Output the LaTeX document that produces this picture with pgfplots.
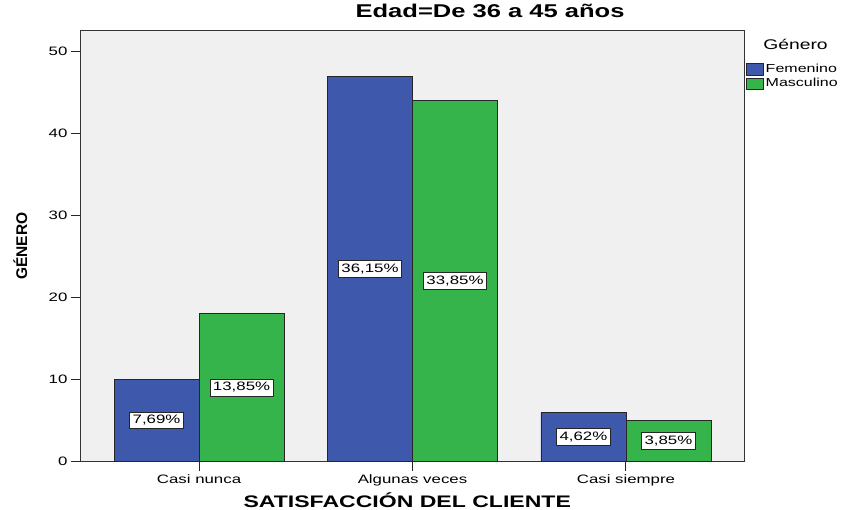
\documentclass[border=0pt]{standalone}
\usepackage{fontspec}
\setmainfont{Liberation Sans}[FakeStretch=1.38]
\newfontfamily\ylabfont{Liberation Sans}
\usepackage{pgfplots}
\pgfplotsset{compat=1.18}
\definecolor{fem}{HTML}{3E58AC}
\definecolor{masc}{HTML}{34B44A}
\definecolor{bg}{HTML}{F0F0F0}
\begin{document}
\begin{tikzpicture}
\useasboundingbox (-81pt,-48.5pt) rectangle (765pt,461.5pt);
\begin{axis}[
  at={(0,0)}, anchor=south west,
  scale only axis, width=663pt, height=430.5pt,
  xmin=-0.553, xmax=2.553, ymin=0, ymax=52.5,
  ybar=0pt, bar width=85pt,
  axis background/.style={fill=bg},
  axis line style={draw=black!80, line width=1pt},
  xtick={0,1,2}, xticklabels={Casi nunca,Algunas veces,Casi siempre},
  ytick={0,10,20,30,40,50},
  tick align=outside, xtick pos=bottom, ytick pos=left,
  major tick length=10pt,
  tick style={draw=black!85, line width=1pt},
  /pgf/number format/assume math mode=true,
  ticklabel style={font=\fontsize{12.2}{14}\selectfont},
  title={Edad=De 36 a 45 años},
  title style={at={(rel axis cs:0.617,1)}, anchor=base, yshift=7pt, font=\fontsize{18.5}{20}\selectfont\bfseries},
  xlabel={SATISFACCIÓN DEL CLIENTE},
  xlabel style={at={(rel axis cs:0.492,0)}, anchor=base, yshift=-46.5pt, font=\fontsize{16.7}{18}\selectfont\bfseries},
  ylabel={GÉNERO},
  ylabel style={at={(rel axis cs:-0.0814,0.5)}, anchor=base, font=\ylabfont\fontsize{15.5}{17}\selectfont\bfseries},
  legend style={at={(rel axis cs:1.003,0.9257)}, anchor=north west, draw=none, fill=none, inner sep=0pt,
    font=\fontsize{11.6}{13}\selectfont, row sep=2.5pt,
    nodes={text height=9pt, text depth=2.5pt, inner sep=0pt}},
  legend cell align=left,
  nodes near coords style={anchor=center, fill=white, draw=black!85, line width=0.8pt,
    inner xsep=3pt, inner ysep=2.5pt, text height=9pt, text depth=2.5pt,
    font=\fontsize{12.2}{14}\selectfont, text=black},
]
\addplot[fill=fem, draw=black!85, line width=0.8pt, bar shift=-42.5pt,
  legend image code/.code={\draw[fill=fem,draw=black!85,line width=0.6pt] (0pt,-6pt) rectangle (17pt,5.5pt);}]
  coordinates {(0,10) (1,47) (2,6)};
\addlegendentry{\,Femenino}
\addplot[fill=masc, draw=black!85, line width=0.8pt, bar shift=42.5pt,
  legend image code/.code={\draw[fill=masc,draw=black!85,line width=0.6pt] (0pt,-6pt) rectangle (17pt,5.5pt);}]
  coordinates {(0,18) (1,44) (2,5)};
\addlegendentry{\,Masculino}
\addplot[forget plot, draw=none, fill=none, bar shift=-42.5pt, nodes near coords, point meta=explicit symbolic]
  coordinates {(0,5) [7,69\%] (1,23.5) [36,15\%] (2,3) [4,62\%]};
\addplot[forget plot, draw=none, fill=none, bar shift=42.5pt, nodes near coords, point meta=explicit symbolic]
  coordinates {(0,9) [13,85\%] (1,22) [33,85\%] (2,2.5) [3,85\%]};
\end{axis}
\node[anchor=base, font=\fontsize{14}{16}\selectfont] at (714.5pt,411.5pt) {Género};
\end{tikzpicture}
\end{document}
